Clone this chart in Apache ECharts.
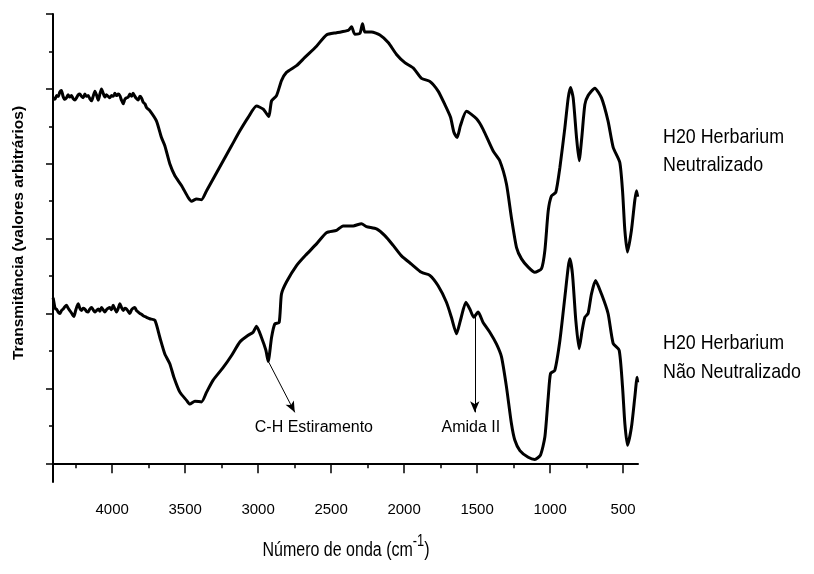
<!DOCTYPE html>
<html>
<head>
<meta charset="utf-8">
<script src="https://cdn.jsdelivr.net/npm/echarts@6/dist/echarts.min.js"></script>
<style>
  html, body { margin: 0; padding: 0; background: #fff; }
  #chart { width: 814px; height: 574px; }
</style>
</head>
<body>
<div id="chart"></div>
<script>
// FTIR spectra, wavenumber (cm-1) vs transmittance in arbitrary units (curves offset)
const waveNeutral = [4404, 4392, 4380, 4369, 4358, 4347, 4336, 4324, 4313, 4302, 4290, 4278, 4267, 4255, 4244, 4232, 4221, 4210, 4198, 4187, 4176, 4164, 4153, 4141, 4130, 4118, 4107, 4095, 4084, 4073, 4061, 4050, 4039, 4027, 4016, 4004, 3993, 3981, 3970, 3958, 3947, 3936, 3924, 3913, 3901, 3890, 3879, 3867, 3856, 3844, 3833, 3822, 3810, 3799, 3787, 3775, 3764, 3742, 3696, 3662, 3639, 3605, 3570, 3525, 3479, 3456, 3422, 3388, 3353, 3296, 3239, 3182, 3125, 3068, 3011, 2965, 2927, 2908, 2874, 2840, 2806, 2737, 2680, 2600, 2532, 2463, 2383, 2360, 2338, 2303, 2285, 2269, 2223, 2166, 2109, 2052, 1995, 1938, 1881, 1824, 1767, 1721, 1682, 1659, 1637, 1614, 1573, 1504, 1459, 1390, 1345, 1299, 1265, 1230, 1196, 1150, 1105, 1059, 1036, 1013, 991, 961, 933, 899, 876, 860, 842, 819, 801, 783, 762, 740, 694, 648, 603, 568, 523, 504, 488, 470, 443, 420, 408, 400];
const transNeutral = [4.88, 4.86, 4.91, 4.90, 4.96, 4.98, 4.90, 4.86, 4.88, 4.92, 4.89, 4.91, 4.87, 4.85, 4.88, 4.92, 4.93, 4.90, 4.88, 4.93, 4.90, 4.91, 4.87, 4.84, 4.90, 4.97, 4.92, 4.85, 4.93, 5.00, 4.94, 4.89, 4.92, 4.90, 4.88, 4.91, 4.90, 4.94, 4.91, 4.93, 4.91, 4.85, 4.80, 4.86, 4.88, 4.89, 4.93, 4.90, 4.94, 4.90, 4.87, 4.85, 4.90, 4.88, 4.82, 4.80, 4.75, 4.71, 4.57, 4.35, 4.24, 4.00, 3.84, 3.71, 3.55, 3.50, 3.53, 3.52, 3.64, 3.84, 4.04, 4.24, 4.44, 4.62, 4.77, 4.73, 4.63, 4.84, 4.91, 5.11, 5.22, 5.31, 5.42, 5.57, 5.72, 5.75, 5.78, 5.83, 5.73, 5.74, 5.87, 5.76, 5.76, 5.72, 5.62, 5.46, 5.35, 5.28, 5.14, 5.10, 4.97, 4.79, 4.62, 4.42, 4.35, 4.51, 4.70, 4.60, 4.46, 4.17, 4.04, 3.73, 3.28, 2.88, 2.73, 2.62, 2.55, 2.60, 2.84, 3.37, 3.57, 3.62, 3.95, 4.48, 4.88, 5.02, 4.88, 4.35, 4.04, 4.35, 4.79, 4.91, 5.01, 4.88, 4.57, 4.22, 4.02, 3.64, 3.11, 2.82, 3.11, 3.51, 3.64, 3.56];

const waveRaw = [4404, 4396, 4388, 4381, 4370, 4358, 4347, 4335, 4324, 4312, 4301, 4290, 4276, 4262, 4250, 4240, 4232, 4221, 4210, 4199, 4187, 4176, 4164, 4153, 4141, 4130, 4118, 4107, 4095, 4084, 4073, 4061, 4050, 4039, 4027, 4016, 4004, 3993, 3981, 3970, 3958, 3947, 3936, 3924, 3913, 3901, 3890, 3879, 3867, 3856, 3844, 3833, 3821, 3810, 3799, 3787, 3765, 3742, 3707, 3673, 3639, 3605, 3577, 3536, 3490, 3468, 3433, 3388, 3353, 3308, 3239, 3182, 3125, 3068, 3034, 3011, 2977, 2947, 2931, 2908, 2886, 2856, 2840, 2806, 2737, 2669, 2600, 2532, 2463, 2418, 2349, 2292, 2258, 2189, 2132, 2075, 2018, 1950, 1881, 1824, 1767, 1710, 1676, 1641, 1614, 1577, 1550, 1523, 1493, 1459, 1413, 1367, 1333, 1299, 1265, 1242, 1207, 1150, 1105, 1066, 1036, 1013, 997, 968, 933, 899, 876, 865, 847, 824, 801, 781, 762, 740, 717, 689, 648, 603, 568, 527, 504, 488, 470, 443, 420, 404, 400];
const transRaw = [2.21, 2.12, 2.06, 2.06, 2.02, 2.00, 2.04, 2.06, 2.09, 2.11, 2.07, 2.04, 2.00, 1.96, 2.04, 2.10, 2.13, 2.07, 2.04, 2.07, 2.06, 2.03, 2.02, 2.06, 2.08, 2.05, 2.02, 2.04, 2.06, 2.03, 2.08, 2.05, 2.02, 2.05, 2.07, 2.08, 2.05, 2.11, 2.06, 2.02, 2.07, 2.13, 2.08, 2.04, 2.07, 2.06, 2.03, 2.00, 2.05, 2.07, 2.08, 2.04, 2.02, 2.00, 1.99, 1.97, 1.95, 1.93, 1.91, 1.68, 1.46, 1.33, 1.15, 0.95, 0.84, 0.79, 0.83, 0.82, 0.95, 1.11, 1.28, 1.44, 1.62, 1.71, 1.75, 1.83, 1.68, 1.51, 1.36, 1.68, 1.86, 1.88, 2.26, 2.42, 2.64, 2.79, 2.93, 3.08, 3.11, 3.17, 3.17, 3.20, 3.16, 3.13, 3.04, 2.91, 2.77, 2.66, 2.55, 2.51, 2.37, 2.15, 1.95, 1.73, 1.91, 2.15, 2.06, 1.95, 2.02, 1.88, 1.75, 1.59, 1.42, 1.02, 0.53, 0.31, 0.17, 0.08, 0.05, 0.11, 0.35, 0.88, 1.20, 1.24, 1.64, 2.22, 2.62, 2.73, 2.53, 1.91, 1.53, 1.77, 1.95, 2.00, 2.26, 2.44, 2.26, 2.00, 1.60, 1.51, 1.02, 0.53, 0.24, 0.48, 0.88, 1.15, 1.08];

// axis ticks
const xMajorTicks = [4000, 3500, 3000, 2500, 2000, 1500, 1000, 500];
const xMinorTicks = [4250, 3750, 3250, 2750, 2250, 1750, 1250, 750];
const yMajorTicks = [0, 1, 2, 3, 4, 5, 6];
const yMinorTicks = [0.5, 1.5, 2.5, 3.5, 4.5, 5.5];

// band annotations: arrow from the band to the caption, caption centre
const chStretch = { text: 'C-H Estiramento', from: [2927, 1.35], to: [2749, 0.68], label: [2618, 0.48] };
const amide2 = { text: 'Amida II', from: [1516, 1.97], to: [1516, 0.68], label: [1543, 0.48] };

const sans = "'Liberation Sans', Arial, sans-serif";

const pairs = (xs, ys) => xs.map((x, i) => [x, ys[i]]);

const chart = echarts.init(document.getElementById('chart'), null, { renderer: 'canvas' });

const xBase = {
  type: 'value', min: 398, max: 4405, inverse: true, gridIndex: 0,
  splitLine: { show: false }
};
const yBase = {
  type: 'value', min: -0.25, max: 6, gridIndex: 0,
  splitLine: { show: false }, axisLabel: { show: false }
};

function arrowLine(a) {
  return [{ coord: a.from }, { coord: a.to }];
}

chart.setOption({
  animation: false,
  backgroundColor: '#fff',
  grid: { left: 53, right: 176, top: 14, bottom: 92, containLabel: false, outerBoundsMode: 'none' },
  xAxis: [
    Object.assign({}, xBase, {
      position: 'bottom',
      axisLine: { show: true, lineStyle: { color: '#000', width: 2 } },
      axisTick: { show: true, length: 10, lineStyle: { color: '#000', width: 1.5 }, customValues: xMajorTicks },
      axisLabel: {
        show: true, customValues: xMajorTicks, margin: 20,
        fontFamily: sans, fontSize: 15, color: '#000',
        formatter: v => String(v)
      }
    }),
    Object.assign({}, xBase, {
      position: 'bottom',
      axisLine: { show: false },
      axisTick: { show: true, length: 5, lineStyle: { color: '#000', width: 1.5 }, customValues: xMinorTicks },
      axisLabel: { show: false }
    })
  ],
  yAxis: [
    Object.assign({}, yBase, {
      position: 'left',
      name: 'Transmitância (valores arbitrários)',
      nameLocation: 'middle',
      nameGap: 26,
      nameTextStyle: { fontFamily: sans, fontWeight: 'bold', fontSize: 15.5, color: '#000', padding: [0, 0, 0, 30] },
      axisLine: { show: true, lineStyle: { color: '#000', width: 2 } },
      axisTick: { show: true, length: 7, lineStyle: { color: '#000', width: 1.5 }, customValues: yMajorTicks }
    }),
    Object.assign({}, yBase, {
      position: 'left',
      axisLine: { show: false },
      axisTick: { show: true, length: 4, lineStyle: { color: '#000', width: 1.5 }, customValues: yMinorTicks }
    })
  ],
  series: [
    {
      name: 'H20 Herbarium Neutralizado',
      type: 'line',
      xAxisIndex: 0, yAxisIndex: 0,
      data: pairs(waveNeutral, transNeutral),
      showSymbol: false,
      smooth: 0.2,
      lineStyle: { color: '#000', width: 3 }
    },
    {
      name: 'H20 Herbarium Não Neutralizado',
      type: 'line',
      xAxisIndex: 0, yAxisIndex: 0,
      data: pairs(waveRaw, transRaw),
      showSymbol: false,
      smooth: 0.2,
      lineStyle: { color: '#000', width: 3 },
      markLine: {
        silent: true,
        symbol: ['none', 'arrow'],
        symbolSize: [7, 11],
        lineStyle: { color: '#000', width: 1, type: 'solid' },
        label: { show: false },
        data: [arrowLine(chStretch), arrowLine(amide2)]
      },
      markPoint: {
        silent: true,
        symbol: 'circle',
        symbolSize: 0,
        label: { show: true, position: 'inside', fontFamily: sans, fontSize: 16, color: '#000' },
        data: [
          { coord: chStretch.label, label: { formatter: chStretch.text } },
          { coord: amide2.label, label: { formatter: amide2.text } }
        ]
      }
    }
  ],
  graphic: [
    {
      // x-axis title, condensed like the rest of the lettering
      type: 'text', x: 346, y: 550, scaleX: 0.8,
      style: {
        text: '{a|Número de onda (cm}{s|-1}{a|)}',
        align: 'center', verticalAlign: 'middle',
        rich: {
          a: { fontFamily: sans, fontSize: 20, fill: '#000' },
          s: { fontFamily: sans, fontSize: 16, fill: '#000', padding: [0, 0, 17, 0] }
        }
      }
    },
    {
      type: 'text', x: 663, y: 123, scaleX: 0.85,
      style: { text: 'H20 Herbarium\nNeutralizado', font: "21px " + sans, fill: '#000', lineHeight: 28 }
    },
    {
      type: 'text', x: 663, y: 329, scaleX: 0.85,
      style: { text: 'H20 Herbarium\nNão Neutralizado', font: "21px " + sans, fill: '#000', lineHeight: 29 }
    }
  ]
});
</script>
</body>
</html>
